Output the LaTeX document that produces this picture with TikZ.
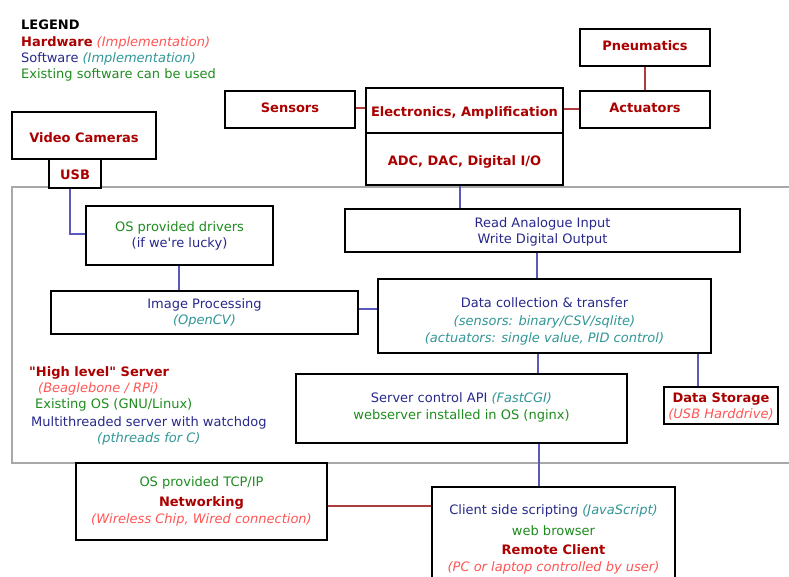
\documentclass[tikz,border=0pt]{standalone}
\usepackage{fontspec}
\setmainfont{DejaVu Sans}[Ligatures=TeXOff]
\definecolor{hwc}{RGB}{170,0,0}
\definecolor{hwic}{RGB}{255,85,85}
\definecolor{swc}{RGB}{40,40,140}
\definecolor{swic}{RGB}{50,150,150}
\definecolor{exc}{RGB}{30,140,30}
\definecolor{swline}{RGB}{90,90,190}
\definecolor{hwline}{RGB}{175,60,60}
\definecolor{framec}{RGB}{168,168,168}
\newcommand{\tHW}[1]{\textcolor{hwc}{\bfseries #1}}
\newcommand{\tHWI}[1]{\textcolor{hwic}{\itshape #1}}
\newcommand{\tSW}[1]{\textcolor{swc}{#1}}
\newcommand{\tSWI}[1]{\textcolor{swic}{\itshape #1}}
\newcommand{\tEX}[1]{\textcolor{exc}{#1}}
\tikzset{
  boxst/.style={draw=black, line width=1.8pt, fill=white, inner sep=0pt},
  boxtxt/.style={inner sep=0pt, align=center, font=\fontsize{13}{16}\selectfont},
  txt/.style={inner sep=0pt, font=\fontsize{13}{16}\selectfont, anchor=base west},
  swl/.style={draw=swline, line width=1.5pt},
  hwl/.style={draw=hwline, line width=1.5pt},
}
% name, x1, y1, x2, y2, dy, text
\newcommand{\mkbox}[7]{\node[boxst, minimum width={(#4-#2)*1pt}, minimum height={(#5-#3)*1pt}]
  (#1) at ({(#2+#4)/2},{(#3+#5)/2}) {};
  \node[boxtxt] (#1-t) at ({(#2+#4)/2},{(#3+#5)/2+#6}) {#7};}
\begin{document}
\begin{tikzpicture}[x=1pt,y=-1pt]
\useasboundingbox (0,0) rectangle (789,577);
\clip (0,0) rectangle (789,577);
% server frame
\draw[draw=framec, line width=2pt] (12,187) rectangle (810,463);
% legend
\node[txt] (lg1) at (21,30) {\textbf{LEGEND}};
\node[txt] (lg2) at (21,47) {\tHW{Hardware} \tHWI{(Implementation)}};
\node[txt] (lg3) at (21,63) {\tSW{Software} \tSWI{(Implementation)}};
\node[txt] (lg4) at (21,79) {\tEX{Existing software can be used}};
% hardware boxes
\mkbox{pneu}{580}{29}{710}{66}{-2}{\tHW{Pneumatics}}
\mkbox{act}{580}{91}{710}{128}{-2}{\tHW{Actuators}}
\mkbox{sens}{225}{91}{355}{128}{-2}{\tHW{Sensors}}
\mkbox{elec}{366}{88}{563}{133}{2}{\tHW{Electronics, Amplification}}
\mkbox{adc}{366}{133}{563}{185}{3}{\tHW{ADC, DAC, Digital I/O}}
\mkbox{cam}{12}{112}{156}{159}{2}{\tHW{Video Cameras}}
\mkbox{usb}{49}{159}{101}{188}{1}{\tHW{USB}}
% software boxes
\mkbox{drv}{86}{206}{273}{265}{0}{\tEX{OS provided drivers}\\\tSW{(if we're lucky)}}
\mkbox{read}{345}{209}{740}{252}{1}{\tSW{Read Analogue Input}\\\tSW{Write Digital Output}}
\mkbox{img}{51}{291}{358}{334}{0}{\tSW{Image Processing}\\\tSWI{(OpenCV)}}
\mkbox{dat}{378}{279}{711}{353}{5}{\tSW{Data collection \& transfer}\\[2pt]\tSWI{(sensors: binary/CSV/sqlite)}\\[1pt]\tSWI{(actuators: single value, PID control)}}
\mkbox{api}{296}{374}{627}{443}{-1.5}{\tSW{Server control API} \tSWI{(FastCGI)}\\[1pt]\tEX{webserver installed in OS (nginx)}}
\mkbox{stor}{664}{387}{778}{424}{1}{\tHW{Data Storage}\\[0.5pt]\tHWI{(USB Harddrive)}}
\mkbox{net}{76}{463}{327}{540}{0}{\tEX{OS provided TCP/IP}\\[4pt]\tHW{Networking}\\[1pt]\tHWI{(Wireless Chip, Wired connection)}}
\mkbox{cli}{432}{487}{675}{600}{-4.5}{\tSW{Client side scripting} \tSWI{(JavaScript)}\\[5pt]\tEX{web browser}\\[3pt]\tHW{Remote Client}\\[1pt]\tHWI{(PC or laptop controlled by user)}}
% server description
\node[txt] (hl1) at (29,376) {\tHW{"High level" Server}};
\node[txt] (hl2) at (38,392) {\tHWI{(Beaglebone / RPi)}};
\node[txt] (hl3) at (35,408) {\tEX{Existing OS (GNU/Linux)}};
\node[txt] (hl4) at (31,426) {\tSW{Multithreaded server with watchdog}};
\node[txt] (hl5) at (97,442) {\tSWI{(pthreads for C)}};
% hardware connectors
\draw[hwl] ([yshift=1.5pt]sens.east) -- ([yshift=1.5pt]sens.east -| elec.west);
\draw[hwl] ([yshift=0.5pt]act.west) -- ([yshift=0.5pt]act.west -| elec.east);
\draw[hwl] (pneu.south) -- (act.north);
\draw[hwl] ([yshift=-4.5pt]net.east) -- ([yshift=-4.5pt]net.east -| cli.west);
% software connectors
\draw[swl] ([xshift=-5pt]usb.south) |- ([yshift=1.5pt]drv.west);
\draw[swl] ([xshift=-4.5pt]adc.south) -- ([xshift=-4.5pt]adc.south |- read.north);
\draw[swl] ([xshift=-0.5pt]drv.south) -- ([xshift=-0.5pt]drv.south |- img.north);
\draw[swl] ([xshift=-5.5pt]read.south) -- ([xshift=-5.5pt]read.south |- dat.north);
\draw[swl] ([yshift=3.5pt]img.east) -- ([yshift=3.5pt]img.east -| dat.west);
\draw[swl] ([xshift=-6.5pt]dat.south) -- ([xshift=-6.5pt]dat.south |- api.north);
\draw[swl] ([xshift=-23pt]stor.north) -- ([xshift=-23pt]stor.north |- dat.south);
\draw[swl] ([xshift=-14.5pt]cli.north) -- ([xshift=-14.5pt]cli.north |- api.south);
\end{tikzpicture}
\end{document}
